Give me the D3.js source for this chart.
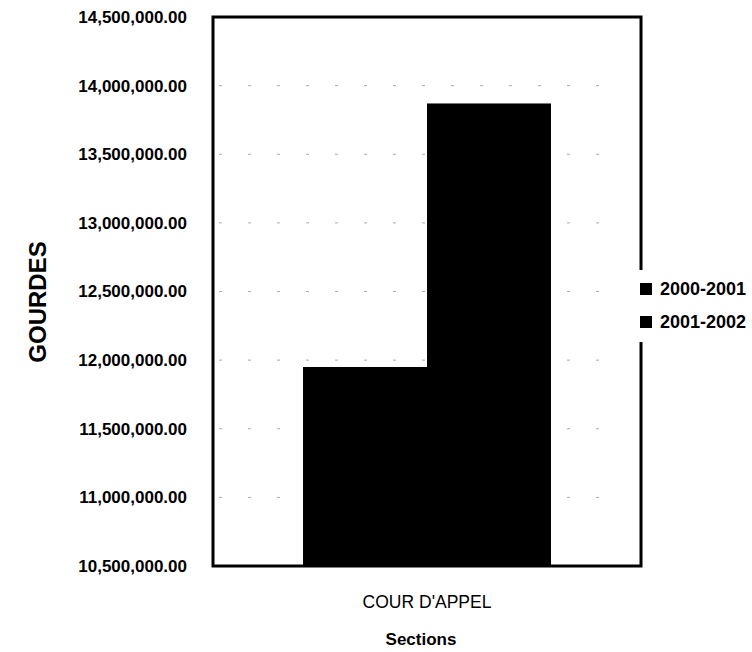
<!DOCTYPE html>
<html>
<head>
<meta charset="utf-8">
<script src="https://cdn.jsdelivr.net/npm/d3@7"></script>
<style>
  html, body { margin: 0; padding: 0; background: #fff; }
  svg { display: block; font-family: "Liberation Sans", Arial, sans-serif; }
</style>
</head>
<body>
<svg id="chart" width="752" height="652"></svg>
<script>
// Budget by section, in gourdes
const categories = ["COUR D'APPEL"];
const seriesNames = ["2000-2001", "2001-2002"];
const values2000_2001 = [11950000];
const values2001_2002 = [13870000];
const yTicks = [10500000, 11000000, 11500000, 12000000, 12500000, 13000000, 13500000, 14000000, 14500000];

const svg = d3.select("#chart");
const plot = { left: 213, right: 641, top: 17, bottom: 566 };

const y = d3.scaleLinear()
  .domain([10500000, 14500000])
  .range([plot.bottom, plot.top]);

const x = d3.scaleBand()
  .domain(categories)
  .range([plot.left, plot.right])
  .paddingInner(0)
  .paddingOuter(0.363);

const xs = d3.scaleBand()
  .domain(seriesNames)
  .range([0, x.bandwidth()])
  .padding(0);

const rows = categories.map((c, i) => ({
  category: c,
  values: [
    { series: seriesNames[0], value: values2000_2001[i] },
    { series: seriesNames[1], value: values2001_2002[i] }
  ]
}));

// faint dotted gridlines
svg.append("g")
  .selectAll("line")
  .data(yTicks.slice(1, -1))
  .join("line")
  .attr("x1", plot.left + 6)
  .attr("x2", plot.right - 30)
  .attr("y1", d => y(d))
  .attr("y2", d => y(d))
  .attr("stroke", "#aaa")
  .attr("stroke-width", 1)
  .attr("stroke-dasharray", "3 26");

// bars
svg.append("g")
  .selectAll("g")
  .data(rows)
  .join("g")
  .attr("transform", d => `translate(${x(d.category)},0)`)
  .selectAll("rect")
  .data(d => d.values)
  .join("rect")
  .attr("x", d => xs(d.series))
  .attr("width", xs.bandwidth())
  .attr("y", d => y(d.value))
  .attr("height", d => y.range()[0] - y(d.value))
  .attr("fill", "#000");

// plot frame
svg.append("rect")
  .attr("x", plot.left)
  .attr("y", plot.top)
  .attr("width", plot.right - plot.left)
  .attr("height", plot.bottom - plot.top)
  .attr("fill", "none")
  .attr("stroke", "#000")
  .attr("stroke-width", 3);

// y axis labels
const yAxis = d3.axisLeft(y)
  .tickValues(yTicks)
  .tickFormat(d3.format(",.2f"))
  .tickSize(0)
  .tickPadding(26);

const yg = svg.append("g")
  .attr("transform", `translate(${plot.left},0)`)
  .call(yAxis);
yg.select(".domain").remove();
yg.selectAll("text")
  .attr("font-family", "'Liberation Sans', Arial, sans-serif")
  .attr("font-size", 17)
  .attr("font-weight", "bold")
  .attr("fill", "#000");

// x axis labels
const xAxis = d3.axisBottom(x).tickSize(0).tickPadding(30);
const xg = svg.append("g")
  .attr("transform", `translate(0,${plot.bottom})`)
  .call(xAxis);
xg.select(".domain").remove();
xg.selectAll("text")
  .attr("font-family", "'Liberation Sans', Arial, sans-serif")
  .attr("font-size", 17.5)
  .attr("fill", "#000");

// axis titles
svg.append("text")
  .attr("transform", "translate(46,302) rotate(-90)")
  .attr("text-anchor", "middle")
  .attr("font-size", 24)
  .attr("font-weight", "bold")
  .text("GOURDES");

svg.append("text")
  .attr("x", (plot.left + plot.right) / 2 - 6)
  .attr("y", 645)
  .attr("text-anchor", "middle")
  .attr("font-size", 17)
  .attr("font-weight", "bold")
  .text("Sections");

// legend
const legend = svg.append("g");
legend.append("rect")
  .attr("x", 634)
  .attr("y", 270)
  .attr("width", 118)
  .attr("height", 72)
  .attr("fill", "#fff");
const items = legend.selectAll("g")
  .data(seriesNames)
  .join("g")
  .attr("transform", (d, i) => `translate(640,${289 + i * 33})`);
items.append("rect")
  .attr("x", 0)
  .attr("y", -6)
  .attr("width", 12)
  .attr("height", 12)
  .attr("fill", "#000");
items.append("text")
  .attr("x", 20)
  .attr("y", 0)
  .attr("dy", "0.36em")
  .attr("font-size", 18)
  .attr("font-weight", "bold")
  .text(d => d);
</script>
</body>
</html>
